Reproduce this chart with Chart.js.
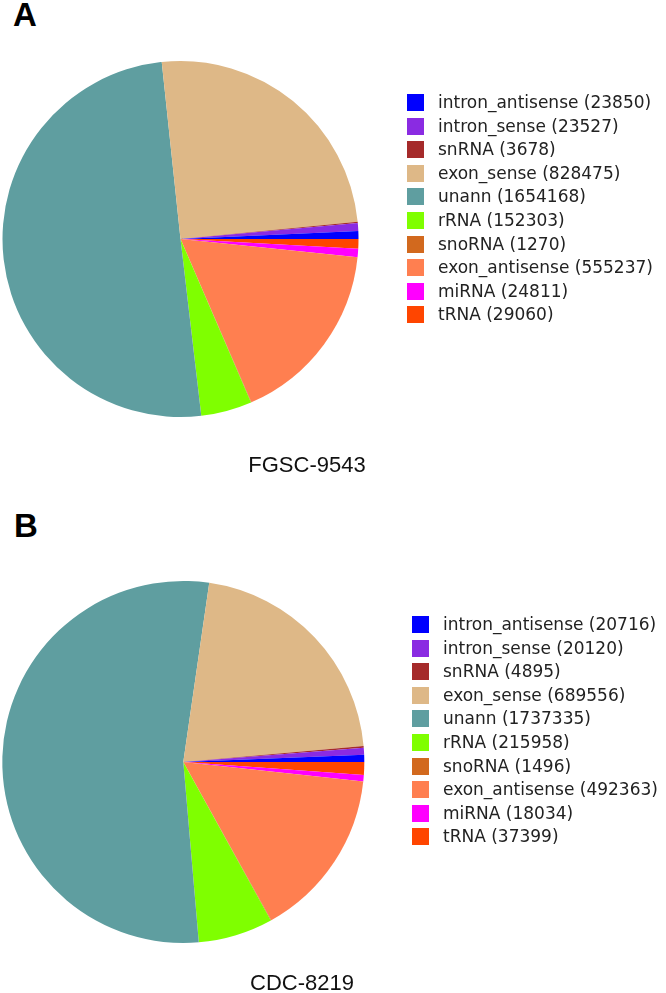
<!DOCTYPE html>
<html>
<head>
<meta charset="utf-8">
<script src="https://cdn.jsdelivr.net/npm/chart.js@4"></script>
<style>
  body { margin: 0; background: #fff; }
  #page { position: relative; width: 666px; height: 993px; overflow: hidden; background: #fff; }
  canvas { position: absolute; left: 0; }
  .panel { position: absolute; font-family: "Liberation Sans", Arial, sans-serif; font-weight: bold; font-size: 33px; line-height: 33px; color: #000; }
  .name { position: absolute; font-family: "Liberation Sans", Arial, sans-serif; font-size: 22px; line-height: 22px; color: #111; white-space: nowrap; transform: translateX(-50%); }
  .legend { position: absolute; font-family: "DejaVu Sans", sans-serif; font-size: 17px; color: #222; }
  .legend .row { position: relative; height: 23.6px; white-space: nowrap; }
  .legend .box { position: absolute; left: 0; top: 3px; width: 17px; height: 17px; }
  .legend .txt { position: absolute; top: 0; line-height: 23.6px; }
</style>
</head>
<body>
<div id="page">
  <div class="panel" style="left:13px; top:-2px;">A</div>
  <canvas id="pieA" width="666" height="490" style="top:0;"></canvas>
  <div id="legendA" class="legend" style="left:407px; top:91px;"></div>
  <div class="name" style="left:307px; top:454px;">FGSC-9543</div>

  <div class="panel" style="left:14px; top:509px;">B</div>
  <canvas id="pieB" width="666" height="503" style="top:490px;"></canvas>
  <div id="legendB" class="legend" style="left:412px; top:613px;"></div>
  <div class="name" style="left:302px; top:972px;">CDC-8219</div>
</div>
<script>
// categories in legend order
const categories = [
  "intron_antisense", "intron_sense", "snRNA", "exon_sense", "unann",
  "rRNA", "snoRNA", "exon_antisense", "miRNA", "tRNA",
];
const countsFGSC = [23850, 23527, 3678, 828475, 1654168, 152303, 1270, 555237, 24811, 29060];
const countsCDC = [20716, 20120, 4895, 689556, 1737335, 215958, 1496, 492363, 18034, 37399];
const sliceColors = [
  "#0000FF", "#8A2BE2", "#A52A2A", "#DEB887", "#5F9EA0",
  "#7FFF00", "#D2691E", "#FF7F50", "#FF00FF", "#FF4500",
];

// slices run counter-clockwise from 3 o'clock in the original,
// so feed Chart.js the reversed order and start at 90 degrees
function makePie(canvasId, counts, padding) {
  const ctx = document.getElementById(canvasId).getContext("2d");
  return new Chart(ctx, {
    type: "pie",
    data: {
      labels: categories.slice().reverse(),
      datasets: [{
        data: counts.slice().reverse(),
        backgroundColor: sliceColors.slice().reverse(),
        borderWidth: 0,
      }],
    },
    options: {
      responsive: false,
      animation: false,
      rotation: 90,
      layout: { padding: padding },
      plugins: {
        legend: { display: false },
        tooltip: { enabled: false },
      },
    },
  });
}

function makeLegend(divId, counts) {
  const el = document.getElementById(divId);
  categories.forEach((label, i) => {
    const row = document.createElement("div");
    row.className = "row";
    row.innerHTML =
      '<span class="box" style="background:' + sliceColors[i] + '"></span>' +
      '<span class="txt" style="left:31px">' + label + " (" + counts[i] + ")</span>";
    el.appendChild(row);
  });
}

const pieA = makePie("pieA", countsFGSC, { left: 2.5, top: 61, right: 307.5, bottom: 73 });
const pieB = makePie("pieB", countsCDC, { left: 2.3, top: 91, right: 301.7, bottom: 50 });
makeLegend("legendA", countsFGSC);
makeLegend("legendB", countsCDC);
</script>
</body>
</html>
